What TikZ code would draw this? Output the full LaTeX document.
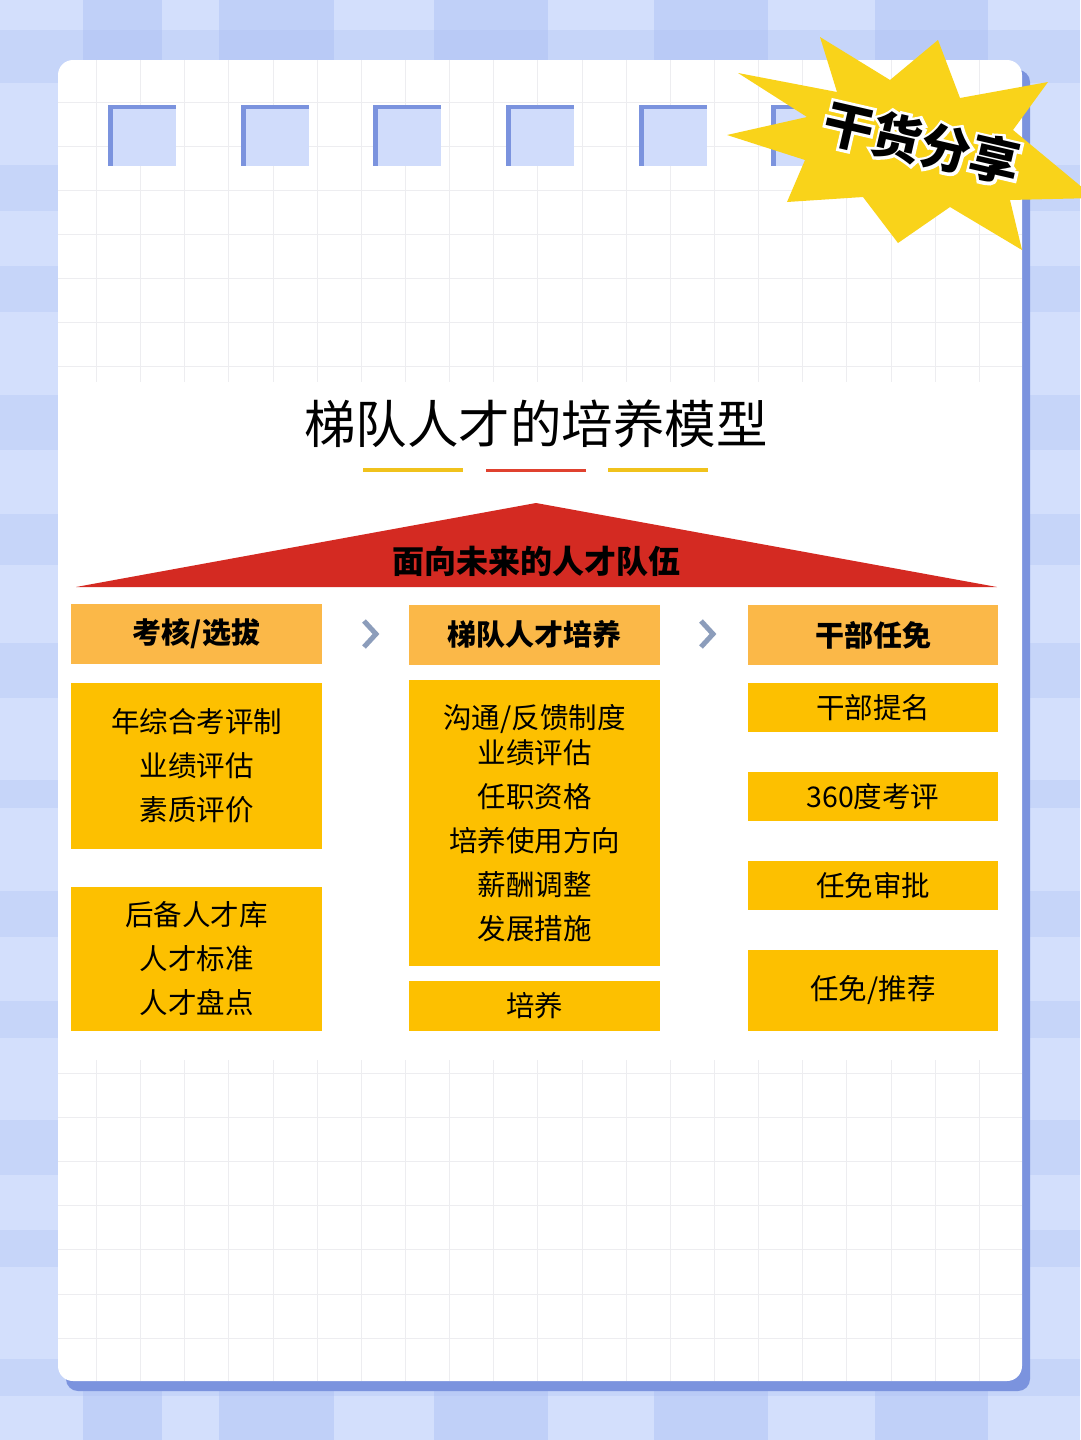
\documentclass[tikz,border=0pt]{standalone}
\usepackage{fontspec}
\setmainfont{Noto Sans CJK SC}
\newfontfamily\tagoutline{Noto Sans CJK SC}[BoldFeatures={FakeBold=12}]
\usetikzlibrary{calc}
\definecolor{bgblue}{HTML}{D3DFFC}
\definecolor{stripe}{HTML}{A9BFF4}
\definecolor{shadowblue}{HTML}{7B93DE}
\definecolor{gridc}{HTML}{EDEDF0}
\definecolor{staryellow}{HTML}{F9D31A}
\definecolor{hdr}{HTML}{FBB848}
\definecolor{boxy}{HTML}{FDC000}
\definecolor{redb}{HTML}{D42A22}
\definecolor{uly}{HTML}{F0C21C}
\definecolor{ulr}{HTML}{E0412F}
\definecolor{chev}{HTML}{8C9DBB}
\definecolor{holeblue}{HTML}{D0DCFB}
\begin{document}
\begin{tikzpicture}[x=1pt,y=-1pt,
  hdrbox/.style={fill=hdr, minimum width=251pt, minimum height=60pt, inner sep=0pt,
    font=\fontsize{29}{31}\selectfont\bfseries},
  bodybox/.style={fill=boxy, minimum width=251pt, inner sep=0pt, align=center,
    font=\fontsize{28.5}{44}\selectfont},
  chevline/.style={draw=chev, line width=5pt, miter limit=4}
]
\useasboundingbox (0,0) rectangle (1080,1440);
% background gingham
\fill[bgblue] (0,0) rectangle (1080,1440);
\foreach \a/\b in {83/162,219/334,434/548,654/768,875/988}
  \fill[stripe, opacity=.45] (\a,0) rectangle (\b,1440);
\foreach \a/\b in {30/83,165/211,266/312,395/450,514/565,643/698,780/808,891/937,1001/1038,1120/1175,1230/1267,1359/1396}
  \fill[stripe, opacity=.3] (0,\a) rectangle (1080,\b);
% card shadow and card
\fill[shadowblue, rounded corners=12pt] (66,70) rectangle (1030,1391);
\fill[white, rounded corners=15pt] (58,60) rectangle (1022,1381);
\begin{scope}
  \clip[rounded corners=15pt] (58,60) rectangle (1022,1381);
  \foreach \i in {0,...,21} \draw[gridc, line width=1pt] (96.4+44.15*\i,60) -- (96.4+44.15*\i,1381);
  \foreach \i in {-1,...,29} \draw[gridc, line width=1pt] (58,102+44.15*\i) -- (1022,102+44.15*\i);
  \fill[white] (58,382) rectangle (1022,1060);
\end{scope}
% binder holes
\foreach \x in {108,241,373,506,639,771}{
  \fill[shadowblue] (\x,105) rectangle (\x+68,166);
  \fill[holeblue] (\x+5,109) rectangle (\x+68,166);
}
% starburst
\fill[staryellow] (738,73) -- (837,92) -- (820,37) -- (890,80) -- (938,40) -- (960,98)
  -- (1048,82) -- (1013,130) -- (1095,198) -- (1010,200) -- (1022,250) -- (950,207)
  -- (898,243) -- (863,197) -- (787,202) -- (805,160) -- (727,135) -- (807,117) -- cycle;
\coordinate (tagc) at (922,143);
\node[rotate=-13, text=white, font=\fontsize{50}{52}\selectfont\tagoutline\bfseries] (tagbg) at (tagc) {干货分享};
\node[rotate=-13, text=black, font=\fontsize{50}{52}\selectfont\bfseries] (tag) at (tagc) {干货分享};
% title
\node[font=\fontsize{51.5}{56}\selectfont] (title) at (536,424) {梯队人才的培养模型};
\draw[uly, line width=4pt] (363,470) -- (463,470);
\draw[ulr, line width=3pt] (486,470) -- (586,470);
\draw[uly, line width=4pt] (608,470) -- (708,470);
% red roof
\fill[redb] (76,587) -- (536,503) -- (997,587) -- cycle;
\node[font=\fontsize{32}{34}\selectfont\bfseries] (roof) at (536,561) {面向未来的人才队伍};
% headers
\node[hdrbox] (h1) at (196.5,634) {考核/选拔};
\node[hdrbox] (h2) at (534.5,634.5) {梯队人才培养};
\node[hdrbox, minimum width=250pt] (h3) at (873,635) {干部任免};
% chevrons
\coordinate (c1) at (370,634);
\coordinate (c2) at (707,634);
\foreach \c in {c1,c2}
  \draw[chevline] ([shift={(-6,-13)}]\c) -- ([shift={(6,0)}]\c) -- ([shift={(-6,13)}]\c);
% column 1
\node[bodybox, minimum height=166pt] (a1) at (196.5,766) {年综合考评制\\业绩评估\\素质评价};
\node[bodybox, minimum height=144pt] (a2) at (196.5,959) {后备人才库\\人才标准\\人才盘点};
% column 2
\node[bodybox, minimum height=286pt] (b1) at (534.5,823) {沟通/反馈制度\\[-9pt]业绩评估\\任职资格\\培养使用方向\\薪酬调整\\发展措施};
\node[bodybox, minimum height=50pt] (b2) at (534.5,1006) {培养};
% column 3
\node[bodybox, minimum width=250pt, minimum height=49pt] (d1) at (873,707.5) {干部提名};
\node[bodybox, minimum width=250pt, minimum height=49pt] (d2) at (873,796.5) {360度考评};
\node[bodybox, minimum width=250pt, minimum height=49pt] (d3) at (873,885.5) {任免审批};
\node[bodybox, minimum width=250pt, minimum height=81pt] (d4) at (873,990.5) {任免/推荐};
\end{tikzpicture}
\end{document}
